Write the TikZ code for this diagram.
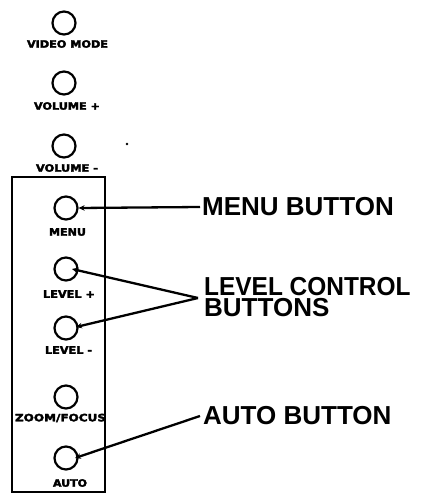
\documentclass[tikz,border=0pt]{standalone}
\usepackage{fontspec}
\usepackage{graphicx}
\setmainfont{Liberation Sans}
\newfontfamily\calloutfont{Liberation Sans Bold}
\newfontfamily\keyfont[FakeBold=3]{DejaVu Sans Bold}
\usetikzlibrary{arrows.meta}
\newcommand{\keylbl}[2]{\resizebox{#1pt}{7.5pt}{\keyfont #2}}
\begin{document}
\begin{tikzpicture}[x=1pt,y=-1pt,
  btn/.style={circle,draw,line width=2.2pt,minimum size=23pt,inner sep=0pt},
  keytext/.style={inner sep=0pt},
  callout/.style={font=\calloutfont\fontsize{26}{22}\selectfont,inner sep=0pt,anchor=west},
  conn/.style={line width=2.3pt,-{Stealth[length=6pt,width=5.5pt]}},
  panelbox/.style={draw,line width=2.6pt,inner sep=0pt,minimum width=93pt,minimum height=315pt}]
\useasboundingbox (0,0) rectangle (422,495);

% panel frame
\node[panelbox] (panel) at (58.5,334.5) {};

% buttons
\node[btn] (vm)   at (64,23)  {};
\node[btn] (volp) at (64,83)  {};
\node[btn] (volm) at (64,146) {};
\node[btn] (menu) at (66,208) {};
\node[btn] (lvlp) at (66,269) {};
\node[btn] (lvlm) at (66,328) {};
\node[btn] (zoom) at (66,397) {};
\node[btn] (auto) at (66,458) {};

% key labels
\node[keytext] (vmt)   at (67.5,44)  {\keylbl{81}{VIDEO MODE}};
\node[keytext] (volpt) at (67,106)   {\keylbl{66}{VOLUME +}};
\node[keytext] (volmt) at (67,168)   {\keylbl{62}{VOLUME -}};
\node[keytext] (menut) at (67.5,232) {\keylbl{37}{MENU}};
\node[keytext] (lvlpt) at (69,294)   {\keylbl{52}{LEVEL +}};
\node[keytext] (lvlmt) at (68.5,350) {\keylbl{47}{LEVEL -}};
\node[keytext] (zoomt) at (60.5,418) {\keylbl{91}{ZOOM/FOCUS}};
\node[keytext] (autot) at (70,483)   {\keylbl{34}{AUTO}};

% stray dot
\fill (127,144) circle (1.3pt);

% callouts
\node[callout] (menucall) at (202,207) {MENU BUTTON};
\node[callout] (lvlcalla) at (204,286.5) {\scalebox{0.94}[1]{LEVEL CONTROL}};
\node[callout] (lvlcallb) at (204,308) {BUTTONS};
\node[callout] (autocall) at (203,416) {AUTO BUTTON};
\coordinate (apex) at (198,298);

\draw[conn] ([xshift=-2pt]menucall.west) -- (menu.east);
\draw[conn] (apex) -- ([xshift=6pt]lvlp.center);
\draw[conn] (apex) -- ([xshift=10pt,yshift=1pt]lvlm.center);
\draw[conn] ([xshift=-3pt]autocall.west) -- ([xshift=9pt]auto.center);
\end{tikzpicture}
\end{document}
